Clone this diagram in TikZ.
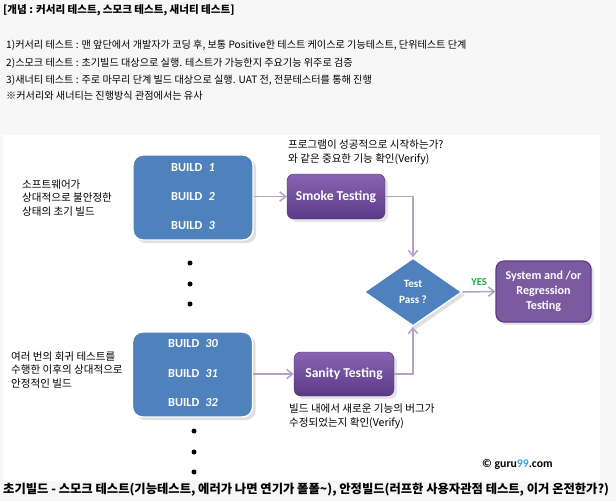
\documentclass[tikz,border=0pt]{standalone}
\usepackage{fontspec}
\setmainfont{Noto Sans CJK KR}
\newfontfamily\calib{Carlito}
\usetikzlibrary{shapes.geometric,arrows.meta,shadows}

\definecolor{pagegray}{HTML}{F7F7F7}
\definecolor{buildblue}{HTML}{4F81BD}
\definecolor{purpletop}{HTML}{8A64B2}
\definecolor{purplebot}{HTML}{5A3A86}
\definecolor{sysviolet}{HTML}{7B5AA0}
\definecolor{flowlilac}{HTML}{B3A2CC}
\definecolor{yesgreen}{HTML}{10B040}
\definecolor{gurublue}{HTML}{29A8E0}

\newcommand{\pxu}{0.03cm}

\tikzset{
  buildbox/.style={draw=white, line width=1.2pt, fill=buildblue, rounded corners=10*\pxu,
    minimum width=120*\pxu, minimum height=85*\pxu, drop shadow={opacity=0.25}},
  buildtxt/.style={text=white, font=\calib\bfseries\fontsize{10.5}{12}\selectfont},
  testbox/.style={draw=purplebot!80!black, top color=purpletop, bottom color=purplebot,
    rounded corners=7*\pxu, text=white, font=\calib\bfseries\fontsize{11.6}{13}\selectfont,
    drop shadow={opacity=0.2}},
  flow/.style={draw=flowlilac, line width=1.3pt, -{Straight Barb[length=5pt,width=8pt]}},
  note/.style={anchor=west, align=left, inner sep=0pt, font=\fontsize{9}{11.9}\selectfont},
  head/.style={anchor=west, inner sep=0pt, font=\fontsize{8.65}{12}\selectfont},
  bigdot/.style={fill=black, circle, inner sep=0pt, minimum size=5*\pxu}
}

\begin{document}
\begin{tikzpicture}[x=0.03cm, y=-0.03cm]
 % page and white panel
 \fill[pagegray] (0,0) rectangle (616,501);
 \fill[white] (3,135) rectangle (600,481);

 % header text
 \node[head, font=\bfseries\fontsize{9}{12}\selectfont] (title) at (3,10) {[개념 : 커서리 테스트, 스모크 테스트, 새너티 테스트]};
 \node[head] (line1) at (6,45) {1)커서리 테스트 : 맨 앞단에서 개발자가 코딩 후, 보통 Positive한 테스트 케이스로 기능테스트, 단위테스트 단계};
 \node[head] (line2) at (6,63) {2)스모크 테스트 : 초기빌드 대상으로 실행. 테스트가 가능한지 주요기능 위주로 검증};
 \node[head] (line3) at (6,80) {3)새너티 테스트 : 주로 마무리 단계 빌드 대상으로 실행. UAT 전, 전문테스터를 통해 진행};
 \node[head] (line4) at (6,96) {※커서리와 새너티는 진행방식 관점에서는 유사};

 % build boxes
 \node[buildbox] (early) at (193,197.5) {};
 \node[buildtxt] (b1) at (193,168) {BUILD\enspace\itshape 1};
 \node[buildtxt] (b2) at (193,197) {BUILD\enspace\itshape 2};
 \node[buildtxt] (b3) at (193,226) {BUILD\enspace\itshape 3};

 \node[buildbox] (stable) at (192.5,374.5) {};
 \node[buildtxt] (b30) at (193,344) {BUILD\enspace\itshape 30};
 \node[buildtxt] (b31) at (193,374) {BUILD\enspace\itshape 31};
 \node[buildtxt] (b32) at (193,403) {BUILD\enspace\itshape 32};

 % dots
 \node[bigdot] (d1) at (190,263) {};
 \node[bigdot] (d2) at (190,284) {};
 \node[bigdot] (d3) at (190,304) {};
 \node[bigdot] (d4) at (194,431) {};
 \node[bigdot] (d5) at (194,452) {};
 \node[bigdot] (d6) at (194,472) {};

 % left notes
 \node[note] (earlynote) at (22,198) {소프트웨어가\\상대적으로 불안정한\\상태의 초기 빌드};
 \node[note] (stablenote) at (11,370) {여러 번의 회귀 테스트를\\수행한 이후의 상대적으로\\안정적인 빌드};

 % test boxes
 \node[testbox, minimum width=98*\pxu, minimum height=45*\pxu] (smoke) at (336,196.5) {Smoke Testing};
 \node[testbox, minimum width=100*\pxu, minimum height=44*\pxu] (sanity) at (344,374) {Sanity Testing};
 \node[draw=white, line width=1.2pt, fill=buildblue, diamond, minimum width=98*\pxu, minimum height=68*\pxu,
   inner sep=0pt, align=center, text=white, font=\calib\bfseries\fontsize{9.5}{13}\selectfont,
   drop shadow={opacity=0.25}] (pass) at (413,292) {Test\\Pass ?};
 \node[draw=purplebot, line width=1pt, fill=sysviolet, rounded corners=8*\pxu, minimum width=95*\pxu,
   minimum height=61*\pxu, align=center, text=white, font=\calib\bfseries\fontsize{10.3}{12.8}\selectfont,
   drop shadow={opacity=0.2}] (sys) at (543.5,291.5) {System and /or\\Regression\\Testing};

 \node[note] (smokenote) at (288,152.5) {프로그램이 성공적으로 시작하는가?\\와 같은 중요한 기능 확인(Verify)};
 \node[note] (sanitynote) at (289,416.5) {빌드 내에서 새로운 기능의 버그가\\수정되었는지 확인(Verify)};

 % connectors
 \draw[flow] (early.east |- smoke.west) -- (smoke.west);
 \draw[flow] (stable.east |- sanity.west) -- (sanity.west);
 \draw[flow] (smoke.east) -| (pass.north);
 \draw[flow] (sanity.east) -| (pass.south);
 \draw[flow] (pass.east) -- node[above=1pt, text=yesgreen, font=\calib\bfseries\fontsize{9}{10}\selectfont] (yes) {YES} (sys.west);

 % credit and footer
 \node[anchor=west, inner sep=0pt, font=\calib\bfseries\fontsize{10}{12}\selectfont] (credit) at (482,464) {\textcopyright\ guru\textcolor{gurublue}{99}.com};
 \node[head, font=\bfseries\fontsize{10.5}{12}\selectfont] (footer) at (3,490) {초기빌드 - 스모크 테스트(기능테스트, 에러가 나면 연기가 폴폴\textasciitilde), 안정빌드(러프한 사용자관점 테스트, 이거 온전한가?)};
\end{tikzpicture}
\end{document}
